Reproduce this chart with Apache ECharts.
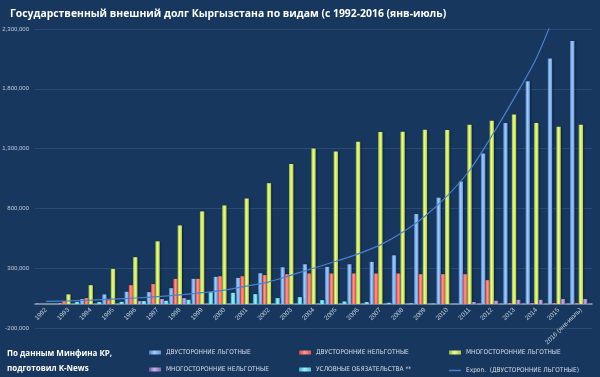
<!DOCTYPE html>
<html>
<head>
<meta charset="utf-8">
<script src="https://cdn.jsdelivr.net/npm/echarts@6/dist/echarts.min.js"></script>
<style>
html,body{margin:0;padding:0;background:#17375e;}
#container{width:600px;height:377px;}
</style>
</head>
<body>
<div id="container"></div>
<script>
var years = ['1992','1993','1994','1995','1996','1997','1998','1999','2000','2001','2002','2003','2004',
	'2005','2006','2007','2008','2009','2010','2011','2012','2013','2014','2015','2016 (янв-июль)'];

// двусторонние льготные
var bilatConc = [5000, 8000, 42000, 81000, 103000, 100000, 133000, 211000, 228000, 219000, 258000, 308000, 333000,
	311000, 333000, 353000, 408000, 753000, 890000, 1025000, 1258000, 1514000, 1864000, 2053000, 2200000];
// двусторонние нельготные
var bilatNonConc = [3000, 26000, 50000, 33000, 158000, 167000, 211000, 211000, 233000, 233000, 242000, 250000, 256000,
	256000, 256000, 256000, 256000, 250000, 250000, 250000, 200000, 8000, 8000, 8000, 8000];
// многосторонние льготные
var multiConc = [0, 81000, 158000, 294000, 392000, 525000, 658000, 775000, 825000, 883000, 1011000, 1172000, 1300000,
	1275000, 1358000, 1439000, 1440000, 1458000, 1456000, 1500000, 1533000, 1586000, 1514000, 1483000, 1500000];
// многосторонние нельготные
var multiNonConc = [0, 0, 0, 0, 25000, 42000, 50000, 0, 0, 0, 0, 0, 0,
	0, 0, 0, 0, 0, 0, 17000, 28000, 36000, 36000, 42000, 42000];
// условные обязательства
var contingent = [0, 19000, 17000, 19000, 25000, 28000, 36000, 100000, 94000, 83000, 50000, 58000, 33000,
	22000, 17000, 11000, 6000, 3000, 0, 0, 0, 0, 0, 0, 0];
// Expon. trend line
var trendVals = [22000, 27000, 33000, 41000, 51000, 63000, 77000, 95000, 117000, 150000, 186000, 242000, 300000,
	358000, 420000, 495000, 600000, 735000, 905000, 1117000, 1405000, 1720000, 2055000, 2520000, 3100000];

function grad(c1, c2, c3){
	return new echarts.graphic.LinearGradient(0, 0, 1, 0, [
		{offset: 0, color: c1},
		{offset: 0.45, color: c2},
		{offset: 1, color: c3}
	]);
}

var names = ['ДВУСТОРОННИЕ ЛЬГОТНЫЕ','ДВУСТОРОННИЕ НЕЛЬГОТНЫЕ','МНОГОСТОРОННИЕ ЛЬГОТНЫЕ',
	'МНОГОСТОРОННИЕ НЕЛЬГОТНЫЕ','УСЛОВНЫЕ ОБЯЗАТЕЛЬСТВА **','Expon.  (ДВУСТОРОННИЕ ЛЬГОТНЫЕ)'];

var legendFont = {color: '#d8dee8', fontSize: 6.5, fontFamily: '"Liberation Sans Narrow","DejaVu Sans Condensed",sans-serif'};
var legendPos = [[149,349],[299,349],[449,349],[149,366],[299,366],[449,366]];
var legends = [];
for (var i = 0; i < names.length; i++) {
	legends.push({
		data: [names[i]],
		left: legendPos[i][0],
		top: legendPos[i][1],
		itemWidth: 12,
		itemHeight: i == 5 ? 1.5 : 4,
		itemGap: 2,
		padding: 0,
		icon: 'rect',
		textStyle: legendFont
	});
}
legends[5].top = 367;

function barSeries(name, data, color){
	return {
		name: name,
		type: 'bar',
		data: data,
		barWidth: 4.4,
		barGap: '-2%',
		itemStyle: {
			color: color,
			shadowColor: 'rgba(0,0,0,0.45)',
			shadowBlur: 2,
			shadowOffsetX: 1
		},
		animation: false
	};
}

var dom = document.getElementById("container");
var myChart = echarts.init(dom);

option = {
	backgroundColor: '#17375e',
	title: [
		{
			text: 'Государственный внешний долг Кыргызстана по видам (с 1992-2016 (янв-июль)',
			left: 10,
			top: 9,
			padding: 0,
			textStyle: {color: '#ffffff', fontSize: 10.4, fontWeight: 'bold', fontFamily: '"Open Sans",sans-serif'}
		},
		{
			text: '{a|По данным Минфина КР,}\n{a|подготовил }{b|K-News}',
			left: 7,
			top: 346,
			padding: 0,
			textStyle: {
				rich: {
					a: {color: '#ffffff', fontSize: 8, fontFamily: '"Open Sans",sans-serif', lineHeight: 15},
					b: {color: '#ffffff', fontSize: 8, fontWeight: 'bold', fontFamily: '"Open Sans",sans-serif', lineHeight: 15}
				}
			}
		}
	],
	legend: legends,
	grid: {
		left: 35,
		right: 8,
		top: 29,
		bottom: 49,
		outerBoundsMode: 'none'
	},
	xAxis: {
		type: 'category',
		data: years,
		axisLine: {onZero: true, lineStyle: {color: '#9aa6b6', width: 1.5}},
		axisTick: {show: false},
		axisLabel: {
			interval: 0,
			rotate: 45,
			fontSize: 6.5,
			color: '#c4ccd8',
			margin: -19
		}
	},
	yAxis: {
		type: 'value',
		min: -200000,
		max: 2300000,
		interval: 500000,
		axisLine: {show: false},
		axisTick: {show: false},
		splitLine: {lineStyle: {color: '#2b4a74', width: 1}},
		axisLabel: {
			fontSize: 6,
			color: '#c4ccd8',
			margin: 6,
			formatter: function (v) {
				return v.toLocaleString('en-US');
			}
		}
	},
	series: [
		barSeries(names[0], bilatConc, grad('#3f7fd0', '#a9cbf4', '#5d95dc')),
		barSeries(names[1], bilatNonConc, grad('#d63d38', '#f79a92', '#e2564f')),
		barSeries(names[2], multiConc, grad('#8fb72e', '#eef9a0', '#a9cc40')),
		barSeries(names[3], multiNonConc, grad('#6f52a0', '#c7b4e6', '#8468b4')),
		barSeries(names[4], contingent, grad('#2fb4cf', '#a6ecf7', '#45c4dc')),
		{
			name: names[5],
			type: 'line',
			data: trendVals,
			smooth: 0.3,
			symbol: 'none',
			clip: true,
			lineStyle: {color: '#4a80c8', width: 1.2},
			itemStyle: {color: '#4a80c8'},
			z: 5,
			animation: false
		}
	]
};

if (option && typeof option === "object") {
	myChart.setOption(option);
}
</script>
</body>
</html>
